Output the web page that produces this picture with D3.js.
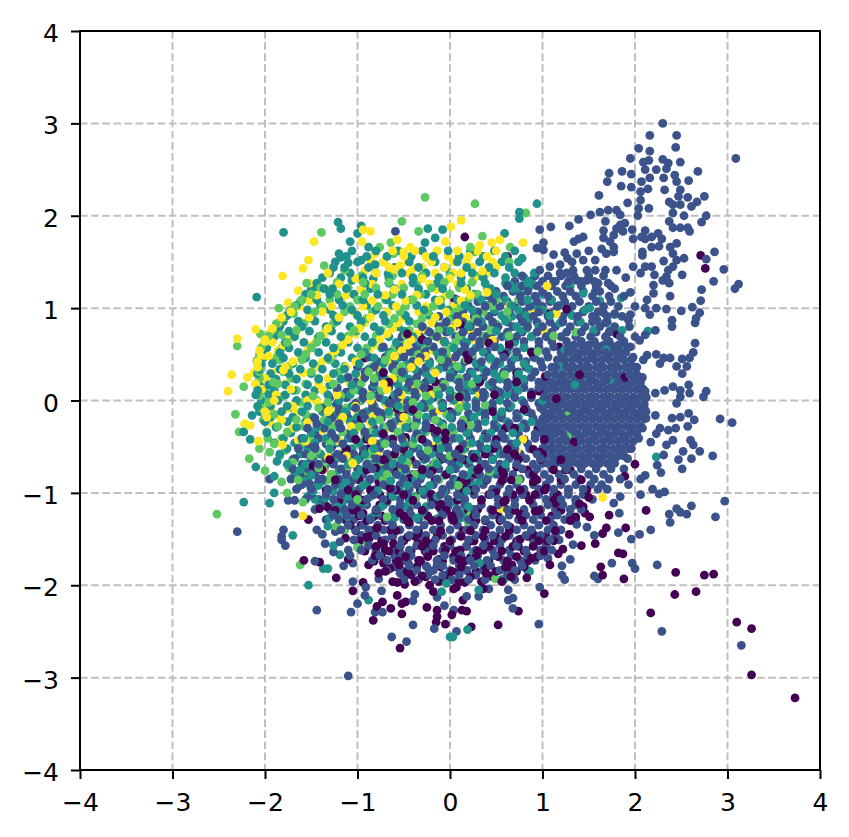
<!DOCTYPE html>
<html><head><meta charset="utf-8">
<script src="https://cdn.jsdelivr.net/npm/d3@7"></script>
<style>html,body{margin:0;padding:0;background:#fff}svg{display:block}text{font-family:"DejaVu Sans",sans-serif}</style>
</head><body><div id="c"></div>
<script>
const tickValues=[-4,-3,-2,-1,0,1,2,3,4];
const classColors=["#440154","#3b528b","#21918c","#5ec962","#fde725"];
const purple=[3.73,-3.22,3.26,-2.97,3.26,-2.47,3.10,-2.40,2.17,-2.30,2.43,-2.10,2.66,-2.07,2.44,-1.86,2.75,-1.89,2.85,-1.88,1.88,-1.93,1.65,-1.89,1.63,-1.80,1.82,-1.65,1.87,-1.66,1.90,-1.38,2.12,-1.19,1.57,-1.55,1.42,-1.57,1.65,-1.44,1.69,-1.38,1.72,-1.24,1.89,-.82,2.0,-.69,1.50,-1.05,1.46,-1.22,1.51,-1.26,1.36,-1.26,1.44,-1.15,1.40,-1.12,1.02,-2.09,.74,-2.28,.52,-2.43,.23,-2.45,1.08,-1.78,.83,-1.92,.36,-2.04,.13,-2.27,.14,-2.16,.04,-2.04,1.29,-1.45,1.14,-1.11,.90,-1.45,.90,-.88,.97,-.56,.68,-.59,.56,-.87,.47,-.52,.14,-.28,.49,-1.0,.65,-1.37,2.71,1.57,2.76,1.43,.16,1.77,.62,1.56,1.40,.28,1.89,.25,1.06,.94,1.26,.99,1.80,.72,.64,.61,.59,.50,.05,1.10,.88,.06,.96,.10,1.15,.02,1.03,.26,
-1.58,-1.73,-1.41,-1.75,-1.23,-1.92,-.94,-1.97,-1.05,-2.06,-.79,-2.23,-.73,-2.18,-.83,-2.38,-.64,-2.25,-.52,-2.31,-.52,-2.20,-.48,-2.18,-.57,-2.11,-.54,-2.68,-.14,-2.27,-.14,-2.34,-.15,-2.40,-.05,-2.42,-1.13,-1.49,-1.41,-1.17,-1.33,-1.15,-1.53,-1.29,-1.48,-.71,-.88,-1.78,-.77,-1.87,-.81,-1.68,-.58,-1.73,-.65,-1.82,-.72,-1.76,-.57,-1.97,-.49,-1.99,-.22,-2.0,-.18,-2.07,-.05,-1.89,-1.08,-1.35,-.96,-1.35,-.79,-1.38,-1.01,-1.19,-.94,-1.22,-.83,-1.26,-.76,-1.13,-.54,-1.22,-.65,-1.40,-.72,-1.55,-.61,-1.55,-.34,-1.44,-.22,-1.55,-.34,-1.73,-.58,-.97,-.77,-.88,-.65,-.95,-.44,-.84,-.66,-.67,-.80,-.73,-.57,-.09,-.14,-.33,-.19,-.76,-.21,-1.01,
.36,-1.62,.09,-1.85,.39,-1.87,.67,-1.78,.88,-1.71,.74,-1.58,.50,-1.48,.22,-1.41,.07,-1.19,.02,-1.26,.11,-1.62,.22,-1.70,.16,-1.97,.63,-1.86,1.17,-1.66,1.22,-1.61,.76,-1.50,1.05,-1.52,.30,-1.18,.38,-1.30,.10,-1.05,-.05,-1.62,-.12,-1.72,-.30,-1.90,-.42,-1.88,-.27,-1.63,-.46,-1.48,-.55,-1.63,-.40,-1.08,-.12,-1.15,-.05,-.98,.18,-.87,.32,-.73,.58,-1.10,.76,-1.23,.92,-1.20,1.04,-.95,.82,-1.02,.72,-.72,.38,-.40,.26,-.62,.06,-.66,-.12,-.50,-.30,-.60,-.48,-.40,-.72,-.36,-.88,-.52,-1.02,-.42,-1.18,-.60,-1.28,-.50,-.96,-.20,-.62,.02,-.40,-.10,-.22,.12,-.05,-.35,.10,.04,.34,.24,.48,.06,.72,.30,.42,.62,.20,.44,-.08,.40,-.30,.66,-.52,.50,-.72,.30,-.92,.46,-.46,.72,.12,.82,.30,.86,.88,.52,1.18,.58,1.34,-.45,1.20,-.66,1.10,-.30,1.25,-.75,.95,-.30,.80,-.10,.60,-.30,.15,-.96,-.10,-1.12,-.62,-1.46,-.44,-1.32,-.70,-1.62,-.90,-1.48,-1.10,-1.72,-.98,-1.60,-.55,-1.78,-.35,-1.55,-.12,-1.30,-.05,-1.92,.10,-1.72,.18,-1.84,.26,-1.52,.07,-2.02,.18,-2.28,.02,-2.32,-.25,-2.24];
const blue=[2.30,3.00,2.16,2.87,2.45,2.87,2.04,2.73,2.44,2.74,2.16,2.70,3.09,2.62,1.95,2.62,2.15,2.60,2.09,2.58,2.30,2.61,2.36,2.57,2.49,2.58,2.11,2.50,2.23,2.50,2.34,2.51,2.68,2.48,1.72,2.46,1.86,2.48,1.96,2.45,2.31,2.41,2.43,2.44,1.70,2.37,2.16,2.41,2.07,2.37,2.58,2.38,2.45,2.37,1.85,2.32,1.96,2.31,2.14,2.29,2.32,2.28,2.49,2.28,2.06,2.26,1.61,2.22,2.75,2.21,2.57,2.20,2.47,2.21,2.37,2.15,1.92,2.14,2.06,2.17,2.67,2.15,2.49,2.12,2.41,2.12,2.61,2.10,2.15,2.08,2.04,2.08,1.71,2.06,1.62,2.04,1.80,2.06,1.52,2.01,1.84,2.01,2.03,2.00,2.41,2.03,2.53,2.00,2.77,2.00,1.39,1.96,1.68,1.94,2.37,1.94,2.72,1.93,1.29,1.89,1.09,1.88,.97,1.85,1.84,1.90,1.89,1.92,1.80,1.86,1.87,1.83,1.97,1.85,2.11,1.84,2.41,1.87,2.49,1.87,2.57,1.87,2.59,1.83,1.66,1.84,1.44,1.77,1.39,1.75,1.34,1.72,1.66,1.76,1.77,1.79,1.73,1.72,2.25,1.81,2.18,1.77,2.29,1.75,2.07,1.77,1.98,1.75,2.11,1.75,1.01,1.71,.94,1.65,1.01,1.63,1.50,1.62,1.24,1.60,1.12,1.58,1.64,1.64,1.77,1.66,2.18,1.66,2.26,1.67,2.45,1.70,2.38,1.66,2.86,1.61,2.77,1.53,1.37,1.59,1.27,1.54,1.69,1.59,1.77,1.61,2.08,1.61,2.41,1.59,2.08,1.57,2.53,1.54,2.45,1.52,2.31,1.51,1.57,1.52,1.44,1.52,1.32,1.50,2.18,1.45,2.11,1.45,1.98,1.45,1.19,1.47,1.08,1.45,.97,1.41,2.41,1.45,2.36,1.41,2.96,1.42,1.80,1.41,1.68,1.41,1.57,1.41,1.48,1.41,1.33,1.41,1.26,1.38,1.19,1.38,2.06,1.38,2.21,1.36,2.51,1.36,2.34,1.34,1.90,1.33,2.85,1.29,2.30,1.30,2.37,1.27,1.71,1.27,1.60,1.27,1.48,1.30,1.37,1.30,1.12,1.29,3.12,1.26,3.08,1.21,2.72,1.20,2.20,1.25,1.57,1.18,1.78,1.21,1.95,1.17,2.20,1.16,2.38,1.13,2.13,1.09,2.71,1.08,2.23,1.00,2.34,.99,2.50,.97,2.62,1.01,2.11,1.00,2.70,.95,2.66,.89,2.65,.84,1.66,.95,1.78,.94,1.95,.93,2.16,.93,2.40,.87,2.40,.80,1.93,.87,1.59,.87,1.68,.84,2.65,.62,2.63,.52,2.59,.46,2.13,.49,2.23,.50,2.31,.46,2.38,.46,2.51,.45,2.27,.40,2.09,.44,2.45,.37,2.56,.37,2.51,.29,2.22,.76,2.11,.71,1.95,.58,2.05,.65,2.32,.11,2.41,.15,2.58,.17,2.49,.11,2.59,.08,2.22,.08,2.11,.10,2.77,.10,2.74,.04,2.49,.04,
3.15,-2.65,2.29,-2.50,.96,-2.42,.07,-2.50,2.24,-1.78,1.97,-1.76,2.0,-1.82,1.75,-1.76,1.56,-1.90,1.60,-1.93,2.17,-1.40,2.05,-1.45,1.96,-1.50,1.82,-1.43,2.97,-1.09,2.87,-1.26,2.61,-1.14,2.56,-1.23,2.49,-1.21,2.45,-1.17,2.37,-1.23,2.38,-1.32,2.32,-.99,2.26,-1.01,2.19,-.96,2.06,-1.02,1.83,-1.22,1.84,-1.04,1.77,-1.11,2.11,-.81,2.06,-.85,1.93,-.91,2.28,-.78,2.24,-.70,2.51,-.74,2.84,-.60,2.70,-.55,2.61,-.63,2.63,-.48,2.60,-.43,2.52,-.55,2.47,-.64,2.31,-.59,2.34,-.48,2.41,-.43,2.17,-.45,2.23,-.36,2.27,-.30,2.36,-.32,2.44,-.30,2.57,-.28,2.64,-.21,2.40,-.19,2.49,-.18,2.58,-.14,2.92,-.20,3.05,-.24,2.45,-.03,2.22,-.16,1.37,-1.34,1.48,-1.37,1.56,-1.46,1.33,-1.56,1.30,-1.72,1.21,-1.79,1.06,-1.71,1.21,-1.89,1.24,-1.94,.97,-2.02,.63,-2.05,.68,-2.14,.63,-2.16,.68,-2.25,.42,-2.04,.31,-2.12,.18,-2.12,.04,-2.27,
-2.30,-1.42,-1.44,-2.27,-1.10,-2.98,-1.80,-1.40,-1.82,-1.47,-1.82,-1.51,-1.78,-1.57,-1.68,-1.23,-1.75,-1.08,-1.68,-1.08,-1.95,-.85,-1.46,-1.74,-1.44,-1.40,-1.38,-1.45,-1.35,-1.55,-1.24,-1.42,-1.19,-1.53,-1.26,-1.64,-1.10,-1.62,-1.08,-1.68,-1.05,-1.76,-1.15,-1.79,-1.05,-1.96,-.91,-2.02,-.92,-2.11,-1.0,-2.20,-1.07,-2.29,-.81,-2.29,-.73,-2.29,-.74,-2.06,-.40,-2.43,-.63,-2.56,-.47,-2.61,-.17,-2.47,-.38,-2.10,-.40,-2.17,-.14,-2.13,-.06,-2.22,-.77,-1.93,-.54,-1.87,-.45,-1.76,-.52,-1.67,-.25,-1.80,-.14,-1.78,-.59,1.83,-1.52,-.9,-1.06,.12,-1.46,-.5,-1.44,-.25,-1.28,-.62,-1.42,-.85,-1.2,-.12,-1.12,-.85,-1.06,-.62,-.92,-.34,-.78,-.12,-.93,.06,-.62,-.03];
const teal=[.94,2.13,.75,2.04,.75,1.97,.59,1.81,.78,1.54,2.14,.75,1.44,1.16,1.62,1.08,1.46,.98,1.85,1.11,1.78,.93,1.51,1.0,1.30,1.24,.91,1.38,.88,1.30,.86,1.23,1.41,.85,1.73,.76,1.86,.76,1.55,.76,.65,1.25,.74,1.23,.67,.91,.83,.78,1.19,.84,1.24,.55,1.44,.35,1.35,.17,1.77,.19,1.19,.37,1.69,.55,1.84,.55,
-1.80,1.82,-1.21,1.93,-1.18,1.86,-.96,1.89,-1.0,1.81,-1.08,1.72,-.24,1.86,-.08,1.85,-.16,1.76,-.27,1.71,-.88,1.66,-1.2,1.59,-1.18,1.55,-1.10,1.49,-.96,1.52,-.81,1.47,-.67,1.37,-2.09,1.12,-1.47,1.20,-1.27,1.21,-1.06,1.30,-.83,1.32,
-2.14,-.16,-2.16,-.42,-2.23,-.34,-1.87,-.66,-2.10,-.72,-1.90,-.82,-1.90,-1.0,-2.23,-1.10,-1.95,-1.11,-1.70,-1.46,-1.53,-2.0,-1.37,-1.82,-1.32,-1.82,-.88,-2.16,-1.26,-1.57,-1.19,-1.67,-1.32,-1.36,-.09,-2.07,0,-2.56,-.04,-1.98,-1.46,-1.07,.03,-2.56,.19,-2.48,2.23,-.61,.58,-1.94,.86,-1.85,.32,-1.76,.25,-1.64,.31,-2.05];
const green=[.27,2.13,.82,2.03,.35,1.78,.65,1.66,.64,1.5,.74,1.09,1.12,.70,1.36,.74,1.35,.47,.95,.53,.61,.88,.59,.28,.47,1.03,.27,1.61,.22,1.66,-.27,2.20,-.52,1.94,-1.39,1.82,-.34,1.83,-.64,1.71,-.76,1.66,-.61,1.59,-1.36,1.46,-1.14,1.41,-1.55,1.27,-1.85,1.0,-2.05,.72,-2.30,.59,-2.09,.43,-2.23,.15,-1.69,.94,-1.62,1.07,-1.53,1.14,-1.82,.71,-1.84,.44,-1.91,.2,
-2.32,-.15,-2.28,-.34,-2.06,-.52,-1.97,-.41,-1.95,-.56,-2.17,-.63,-2.0,-.76,-2.52,-1.23,-1.62,-1.78,-1.76,-1.0,-1.82,-.88,-1.59,-1.10,-1.51,-.93,-1.0,-1.07,-1.0,-1.59,-.92,-1.52,-.68,-1.26,-.25,-1.26,-.37,-1.06,-1.23,-1.36,-1.14,-1.41,.49,-1.93,.22,-1.24,.43,-.77,.25,-.94,.09,-.92,1.27,-.39,1.28,-.16,.22,-.27,.14,-.54,.74,-.86,.38,-.05,.2,-1.33];
const yellow=[.12,1.95,.01,1.88,.54,1.74,.45,1.71,.32,1.68,.79,1.71,.36,1.56,.35,1.40,.03,1.38,1.05,1.24,.14,1.23,.40,1.17,.65,1.03,.89,.94,1.15,.94,1.02,.76,.46,.65,.23,.77,.23,.66,.02,.45,.31,.08,-1.47,1.72,-1.53,1.52,-1.59,1.43,-1.32,1.38,-1.81,1.35,-.94,1.85,-.86,1.83,-.95,1.72,-.81,1.59,-.86,1.52,-.57,1.74,-.43,1.66,-.5,1.61,-.92,1.41,-.54,1.46,-.6,1.42,-.4,1.43,-.24,1.54,-.14,1.62,-.05,1.72,-1.52,1.27,-1.64,1.19,-1.75,1.06,-1.78,.91,-2.10,.77,-2.30,.67,-2.0,.64,-1.92,.63,-2.36,.28,-2.19,.25,-2.40,.10,-2.04,.47,-2.02,.24,-1.80,.33,
-2.22,-.25,-2.16,-.27,-2.07,-.44,-1.88,-.46,-1.81,-.48,-1.59,-1.25,-1.94,-.10,-1.77,-.09,-1.94,-.24,-1.82,-.21,-1.57,-.28,-1.30,-.10,-1.44,-.01,-1.38,-.32,-1.07,-.28,-1.32,-.61,-1.05,-.68,-.43,-.68,-.20,-.49,-.11,-.11,-1.64,-.43,-1.17,-.21,-1.37,-.75,1.65,-1.05,.09,-.04,.55,-1.17,.79,-.42,.72,-.54];
// Dense interior, read band by band: each row is [y, x, x, x ...]
const purpleRows=[
[-.42,-.9,-.62,-.3,-.05,.22,.5,.8,1.02],[-.53,-1.12,-.84,-.5,-.18,.1,.36,.62,.9,1.1],[-.64,-1.3,-1,-.72,-.42,-.1,.16,.46,.74,.98,1.2],[-.75,-1.38,-1.12,-.9,-.6,-.3,0,.3,.56,.84,1.12,1.3],[-.86,-1.24,-.98,-.74,-.46,-.16,.12,.4,.66,.94,1.2,1.42],
[-.97,-1.34,-1.1,-.86,-.6,-.32,-.06,.24,.5,.76,1.02,1.28,1.48],[-1.08,-1.2,-.94,-.68,-.44,-.18,.08,.34,.6,.86,1.12,1.36],[-1.19,-1.24,-1.06,-.8,-.56,-.3,-.04,.2,.46,.7,.96,1.2],[-1.3,-1.12,-.9,-.7,-.46,-.2,.04,.28,.54,.78,1.04,1.3],[-1.41,-1.02,-.84,-.58,-.34,-.1,.14,.38,.64,.88,1.14],
[-1.52,-.98,-.74,-.5,-.26,0,.24,.48,.72,.96,1.12],[-1.63,-.92,-.66,-.42,-.18,.06,.3,.56,.8,1.02],[-1.74,-.82,-.56,-.32,-.08,.16,.42,.62,.84],[-1.85,-.7,-.46,-.22,.02,.28,.5,.72],[-1.96,-.62,-.38,-.12,.1,.34,.56],
[-1.47,-.86,-.62,-.38,-.14,.12,.36,.6,.84,1.04],[-1.58,-.8,-.54,-.3,-.06,.18,.42,.68,.9],[-1.69,-.74,-.48,-.24,.04,.28,.52,.72,.94],[-1.8,-.6,-.36,-.1,.12,.38,.6,.8],[-1.91,-.5,-.26,-.02,.22,.46,.66],[-1.25,-.98,-.74,-.5,-.24,.02,.26,.52,.76,1.1],[-1.02,-1.02,-.76,-.5,-.2,.14,.42,.68,.92,1.16],[-.8,-1,-.68,-.36,-.04,.28,.58,.9],[-.58,-.94,-.6,-.26,.06,.38,.7,1],[-.3,-.7,-.2,.3,.7],[-.12,-.5,0,.46,.84],[.2,-.66,-.16,.32,.72],[.5,-.3,.18,.6]];
const blueRows=[
[1.35,.78,.92,1.06,1.2,1.34,1.5,1.66],[1.24,.62,.78,.94,1.1,1.25,1.42,1.58,1.74],[1.13,.42,.58,.76,.92,1.06,1.22,1.36,1.54,1.72,1.88],[1.02,.2,.38,.54,.7,.86,1,1.16,1.32,1.5,1.66,1.82,2],[.91,-.12,.08,.26,.42,.58,.76,.9,1.06,1.22,1.38,1.54,1.7,1.86],
[.8,-.3,-.12,.05,.22,.36,.52,.68,.84,1,1.14,1.3,1.46,1.62,1.78,1.94],[.69,-.52,-.32,-.14,.06,.24,.4,.56,.72,.88,1.04,1.2,1.36,1.52,1.68,1.84,2],[.58,-.72,-.54,-.36,-.18,0,.16,.32,.48,.64,.8,.96,1.12,1.28,1.44,1.6,1.76,1.9],[.47,-.88,-.7,-.5,-.32,-.12,.06,.24,.42,.58,.74,.9,1.06,1.22,1.38,1.54,1.7,1.84,1.98],[.36,-1,-.82,-.62,-.44,-.26,-.06,.12,.3,.48,.66,.82,1,1.14,1.3,1.46,1.62,1.78,1.92,2.02],
[.25,-1.1,-.92,-.74,-.54,-.36,-.18,0,.18,.36,.54,.72,.88,1.04,1.2,1.36,1.52,1.68,1.84,2,2.08],[.14,-1.22,-1.02,-.84,-.66,-.46,-.28,-.08,.1,.28,.46,.62,.8,.96,1.12,1.28,1.44,1.6,1.76,1.92,2.07],[.03,-1.3,-1.12,-.94,-.76,-.56,-.38,-.18,0,.18,.36,.54,.7,.88,1.04,1.2,1.36,1.52,1.68,1.84,1.98,2.12],[-.08,-1.38,-1.2,-1.02,-.84,-.64,-.46,-.28,-.08,.1,.28,.46,.64,.82,.98,1.14,1.3,1.46,1.62,1.78,1.94,2.1],[-.19,-1.46,-1.28,-1.1,-.92,-.74,-.54,-.36,-.18,.02,.2,.38,.56,.72,.9,1.06,1.22,1.38,1.54,1.7,1.86,2.02,2.12],
[-.3,-1.54,-1.36,-1.18,-1,-.82,-.62,-.44,-.26,-.08,.12,.3,.48,.66,.82,1,1.16,1.32,1.48,1.64,1.8,1.96,2.08],[-.41,-1.6,-1.42,-1.24,-1.06,-.88,-.7,-.52,-.32,-.14,.04,.22,.4,.58,.76,.92,1.08,1.24,1.4,1.56,1.72,1.88,2.04],[-.52,-1.64,-1.46,-1.3,-1.12,-.94,-.76,-.58,-.4,-.22,-.02,.16,.34,.52,.7,.86,1.02,1.18,1.34,1.5,1.66,1.82,1.96],[-.63,-1.68,-1.5,-1.34,-1.16,-.98,-.8,-.62,-.44,-.26,-.06,.12,.3,.46,.64,.82,.98,1.14,1.3,1.46,1.62,1.78,1.92],[-.74,-1.7,-1.54,-1.36,-1.18,-1,-.84,-.66,-.48,-.3,-.12,.06,.24,.42,.6,.78,.94,1.1,1.26,1.42,1.58,1.74,1.88],
[-.85,-1.72,-1.54,-1.38,-1.2,-1.04,-.86,-.68,-.5,-.32,-.14,.04,.22,.4,.58,.76,.92,1.08,1.24,1.4,1.56,1.72,1.84],[-.96,-1.66,-1.5,-1.32,-1.16,-.98,-.8,-.62,-.44,-.26,-.08,.1,.28,.46,.64,.8,.96,1.12,1.28,1.44,1.6,1.7],[-1.07,-1.56,-1.42,-1.26,-1.08,-.9,-.72,-.54,-.38,-.2,-.02,.16,.34,.52,.7,.88,1.04,1.2,1.36,1.54],[-1.18,-1.46,-1.3,-1.14,-.98,-.8,-.62,-.44,-.28,-.1,.08,.26,.44,.62,.8,.98,1.14,1.3,1.42],[-1.29,-1.34,-1.2,-1.04,-.86,-.68,-.5,-.34,-.16,.02,.2,.38,.56,.74,.9,1.08,1.24,1.36],
[-1.4,-1.18,-1.02,-.88,-.72,-.54,-.36,-.18,0,.18,.36,.54,.72,.88,1.06,1.2],[-1.51,-1.04,-.88,-.7,-.52,-.34,-.16,.02,.2,.38,.56,.74,.9,1.08,1.18],[-1.62,-.96,-.8,-.62,-.44,-.26,-.08,.1,.28,.46,.64,.82,.98,1.1],[-1.73,-.84,-.68,-.5,-.32,-.14,.04,.22,.4,.58,.76,.92],[-1.84,-.68,-.52,-.36,-.18,0,.18,.36,.54,.7,.84],[-1.94,-.5,-.34,-.16,.02,.2,.38,.56,.7],
[.6,1.34,1.42,1.5,1.58,1.66,1.74,1.82],[.52,1.2,1.28,1.36,1.44,1.52,1.6,1.68,1.76,1.84,1.9],[.44,1.16,1.24,1.32,1.4,1.48,1.56,1.64,1.72,1.8,1.88,1.96],[.36,1.1,1.18,1.26,1.34,1.42,1.5,1.58,1.66,1.74,1.82,1.9,1.98],[.28,1.06,1.14,1.22,1.3,1.38,1.46,1.54,1.62,1.7,1.78,1.86,1.94,2.02],[.2,1.02,1.1,1.18,1.26,1.34,1.42,1.5,1.58,1.66,1.74,1.82,1.9,1.98,2.06],[.12,1,1.06,1.14,1.22,1.3,1.38,1.46,1.54,1.62,1.7,1.78,1.86,1.94,2.02,2.09],[.04,1.02,1.1,1.18,1.26,1.34,1.42,1.5,1.58,1.66,1.74,1.82,1.9,1.98,2.06,2.12],[-.04,1,1.06,1.14,1.22,1.3,1.38,1.46,1.54,1.62,1.7,1.78,1.86,1.94,2.02,2.1],[-.12,1.02,1.1,1.18,1.26,1.34,1.42,1.5,1.58,1.66,1.74,1.82,1.9,1.98,2.06,2.12],[-.2,1,1.06,1.14,1.22,1.3,1.38,1.46,1.54,1.62,1.7,1.78,1.86,1.94,2.02,2.1],[-.28,1.02,1.1,1.18,1.26,1.34,1.42,1.5,1.58,1.66,1.74,1.82,1.9,1.98,2.06],[-.36,1,1.06,1.14,1.22,1.3,1.38,1.46,1.54,1.62,1.7,1.78,1.86,1.94,2.02],[-.44,1.02,1.1,1.18,1.26,1.34,1.42,1.5,1.58,1.66,1.74,1.82,1.9,1.98],[-.52,1,1.06,1.14,1.22,1.3,1.38,1.46,1.54,1.62,1.7,1.78,1.86,1.93],[-.6,1.02,1.1,1.18,1.26,1.34,1.42,1.5,1.58,1.66,1.74,1.82,1.88],[-.68,1,1.06,1.14,1.22,1.3,1.38,1.46,1.54,1.62,1.7,1.78],
[1.29,.7,.86,1,1.14,1.28,1.42,1.56],[1.18,.5,.68,.84,1,1.16,1.3,1.44,1.62],[1.07,.3,.46,.62,.78,.94,1.08,1.24,1.4,1.58,1.74],[.96,.14,.3,.48,.64,.8,.96,1.12,1.28,1.44,1.6],[.85,-.04,.14,.3,.46,.62,.78,.94,1.08,1.22,1.38,1.54,1.7],[.74,-.22,-.04,.14,.3,.46,.62,.78,.94,1.1,1.26,1.42,1.58,1.72],[.64,-.42,-.24,-.06,.14,.32,.48,.64,.8,.96,1.1,1.26,1.42,1.56,1.72,1.88],[.53,-.62,-.44,-.26,-.08,.08,.24,.4,.56,.72,.88,1.04],[.42,-.78,-.6,-.4,-.22,-.02,.16,.34,.5,.66,.82,.98],[.31,-.92,-.72,-.52,-.34,-.16,.04,.22,.4,.58,.74,.92],
[.2,-1.02,-.82,-.64,-.44,-.26,-.08,.1,.28,.46,.62,.8,.96],[.09,-1.12,-.94,-.76,-.56,-.38,-.18,0,.18,.36,.54,.7,.88],[-.03,-1.22,-1.02,-.84,-.66,-.46,-.28,-.08,.1,.28,.46,.62,.8,.96],[-.14,-1.3,-1.12,-.94,-.74,-.56,-.36,-.18,.02,.2,.38,.56,.72,.88],[-.25,-1.38,-1.2,-1.02,-.84,-.64,-.46,-.26,-.08,.12,.3,.48,.64,.8,.96],[-.36,-1.46,-1.28,-1.1,-.92,-.74,-.54,-.36,-.16,.02,.2,.38,.56,.74,.92],[-.47,-1.52,-1.34,-1.16,-.98,-.8,-.62,-.44,-.24,-.04,.14,.32,.5,.66,.84],[-.58,-1.56,-1.4,-1.22,-1.04,-.86,-.68,-.5,-.32,-.12,.06,.24,.42,.58,.76,.94],[-.69,-1.6,-1.42,-1.26,-1.08,-.9,-.72,-.54,-.36,-.18,.02,.2,.38,.54,.72,.9],[-.8,-1.62,-1.46,-1.28,-1.12,-.94,-.76,-.58,-.4,-.22,-.04,.14,.32,.5,.68,.86,1.02,1.18,1.34,1.5,1.66],
[-.91,-1.6,-1.44,-1.24,-1.08,-.9,-.72,-.54,-.36,-.18,0,.18,.36,.54,.72,.9,1.04,1.2,1.36,1.52,1.64],[-1.02,-1.5,-1.34,-1.18,-1,-.82,-.64,-.46,-.28,-.1,.08,.26,.44,.62,.78,.96,1.12,1.28,1.44],[-1.13,-1.4,-1.24,-1.06,-.9,-.72,-.54,-.36,-.2,-.02,.16,.34,.52,.7,.9,1.06,1.22,1.36],[-1.24,-1.26,-1.12,-.96,-.78,-.6,-.42,-.26,-.08,.1,.28,.46,.64,.82,.98,1.16,1.3],[-1.35,-1.1,-.94,-.78,-.62,-.44,-.28,-.1,.08,.26,.44,.62,.8,.96,1.12],[-1.46,-.96,-.8,-.62,-.44,-.26,-.08,.1,.28,.46,.64,.82,.98,1.14],[-1.57,-.88,-.72,-.54,-.36,-.18,0,.18,.36,.54,.72,.9,1.04],[-1.68,-.76,-.6,-.42,-.24,-.06,.12,.3,.48,.66,.84,.98],[-1.79,-.6,-.44,-.26,-.08,.1,.26,.44,.62,.78],[-1.89,-.42,-.24,-.08,.1,.28,.46,.62]];
const tealRows=[
[1.62,-1.06,-.8,-.56,-.3,-.02,.22,.48,.7],[1.5,-1.24,-1,-.72,-.44,-.16,.08,.32,.56,.74],[1.38,-1.3,-1.08,-.8,-.52,-.26,0,.24,.48,.7],[1.27,-1.44,-1.2,-.92,-.66,-.4,-.14,.12,.38,.6,.84],[1.15,-1.56,-1.3,-1.04,-.78,-.52,-.26,0,.26,.5,.76,1],[1.03,-1.66,-1.4,-1.16,-.9,-.62,-.36,-.1,.16,.4,.66,.92,1.18],[.92,-1.76,-1.5,-1.26,-1,-.72,-.48,-.22,.06,.3,.56,.82,1.08,1.32],[.8,-1.84,-1.6,-1.34,-1.08,-.82,-.56,-.3,-.04,.2,.46,.72,.96],[.69,-1.9,-1.68,-1.42,-1.18,-.92,-.66,-.4,-.14,.12,.36,.62,.88],[.57,-1.98,-1.74,-1.5,-1.26,-1,-.74,-.48,-.22,.04,.28,.54,.8],
[.46,-2.02,-1.8,-1.56,-1.32,-1.06,-.82,-.56,-.3,-.06,.2,.44,.7,.92],[.34,-2.06,-1.84,-1.62,-1.38,-1.14,-.88,-.62,-.38,-.12,.12,.36,.62,.86],[.23,-2.04,-1.88,-1.66,-1.42,-1.18,-.94,-.7,-.44,-.2,.06,.3,.54,.8],[.11,-2.08,-1.9,-1.7,-1.46,-1.22,-.98,-.74,-.5,-.26,0,.24,.5,.74],[0,-2.04,-1.86,-1.66,-1.44,-1.2,-.96,-.7,-.46,-.22,.04,.28,.54,.78,1],[-.12,-2.06,-1.82,-1.6,-1.38,-1.14,-.9,-.66,-.42,-.18,.08,.32,.56,.82],[-.23,-2,-1.76,-1.56,-1.32,-1.08,-.84,-.6,-.36,-.12,.14,.38,.62,.88],[-.35,-1.98,-1.72,-1.5,-1.28,-1.04,-.8,-.56,-.3,-.06,.18,.44,.68],[-.46,-1.9,-1.68,-1.46,-1.22,-.98,-.74,-.5,-.26,-.02,.24,.48,.72],[-.58,-1.84,-1.62,-1.4,-1.16,-.92,-.68,-.44,-.2,.04,.28,.54],
[-.69,-1.76,-1.56,-1.34,-1.1,-.86,-.62,-.38,-.14,.1,.34,.6],[-.81,-1.68,-1.5,-1.26,-1.02,-.78,-.54,-.3,-.06,.18,.42],[-.92,-1.62,-1.42,-1.18,-.94,-.7,-.46,-.22,.02,.26],[-1.04,-1.54,-1.34,-1.1,-.86,-.62,-.38,-.14,.1],[-1.15,-1.42,-1.22,-.98,-.74,-.5,-.26,-.02,.2],[-1.27,-1.3,-1.1,-.86,-.6,-.36,-.12,.12],
[1.56,-1.12,-.9,-.68,-.42,-.18,.1,.36,.6],[1.44,-1.26,-1.14,-.88,-.6,-.34,-.06,.18,.42,.64],[1.33,-1.38,-1.18,-.94,-.66,-.4,-.12,.12,.36,.6,.8],[1.21,-1.5,-1.36,-1.12,-.86,-.6,-.34,-.08,.18,.44,.68],[1.09,-1.6,-1.44,-1.2,-.94,-.68,-.42,-.16,.08,.34,.6,.84,1.1],[.98,-1.72,-1.54,-1.3,-1.06,-.8,-.54,-.28,-.02,.24,.48,.74,1],[.86,-1.8,-1.64,-1.46,-1.22,-.96,-.7,-.44,-.18,.08,.34,.6,.84],[.75,-1.86,-1.74,-1.52,-1.28,-1.02,-.76,-.5,-.24,0,.24,.5,.76],[.63,-1.94,-1.78,-1.58,-1.34,-1.1,-.84,-.58,-.32,-.06,.18,.44,.7],[.52,-2,-1.84,-1.64,-1.42,-1.18,-.92,-.66,-.4,-.14,.1,.36,.62],
[.4,-2.04,-1.92,-1.7,-1.48,-1.24,-.98,-.72,-.46,-.22,.02,.28,.54,.8],[.29,-2.08,-1.94,-1.74,-1.5,-1.26,-1.02,-.76,-.5,-.26,0,.24,.48,.74],[.17,-2.06,-1.96,-1.78,-1.54,-1.3,-1.06,-.82,-.56,-.32,-.06,.18,.42,.68],[.06,-2.1,-1.96,-1.78,-1.56,-1.32,-1.08,-.84,-.6,-.36,-.12,.12,.38,.62,.88],[-.06,-2.08,-1.94,-1.76,-1.54,-1.3,-1.06,-.82,-.56,-.32,-.08,.18,.42,.66],[-.18,-1.94,-1.7,-1.48,-1.24,-1,-.76,-.5,-.26,0,.26,.5,.74],[-.29,-1.88,-1.66,-1.44,-1.2,-.96,-.72,-.48,-.24,.02,.26,.52,.76],[-.41,-1.8,-1.58,-1.34,-1.1,-.86,-.62,-.38,-.14,.1,.36,.6],[-.52,-1.76,-1.54,-1.3,-1.06,-.82,-.58,-.34,-.1,.14,.4,.64],[-.64,-1.7,-1.48,-1.24,-1,-.76,-.52,-.28,-.02,.22,.46],
[-.75,-1.62,-1.44,-1.2,-.96,-.72,-.48,-.24,0,.24,.5],[-.87,-1.56,-1.36,-1.12,-.88,-.64,-.4,-.16,.08,.32],[-.98,-1.48,-1.26,-1.02,-.78,-.54,-.3,-.06,.18],[-1.1,-1.36,-1.16,-.92,-.68,-.44,-.2,.04],[-1.21,-1.2,-1.02,-.8,-.56,-.3,-.06,.16]];
const greenRows=[
[1.35,-.96,-.62,-.3,0,.3],[1.22,-1.4,-1.1,-.8,-.5,-.2,.1,.4],[1.09,-1.6,-1.3,-1,-.7,-.4,-.1,.2,.5],[.96,-1.74,-1.46,-1.14,-.84,-.54,-.24,.06,.36,.62],[.83,-1.88,-1.58,-1.26,-.96,-.66,-.36,-.06,.22,.5],[.7,-1.96,-1.72,-1.4,-1.1,-.8,-.48,-.18,.1,.38,.64],[.57,-2.04,-1.82,-1.5,-1.2,-.9,-.6,-.3,0,.28],[.44,-2.08,-1.9,-1.6,-1.3,-1,-.7,-.4,-.1,.18,.44],
[.31,-2.06,-1.8,-1.5,-1.2,-.88,-.58,-.28,.02],[.18,-2.1,-1.86,-1.56,-1.26,-.96,-.66,-.36,-.06,.24],[.05,-2.06,-1.8,-1.48,-1.18,-.86,-.56,-.26,.04,.34],[-.08,-2.04,-1.72,-1.42,-1.12,-.82,-.52,-.22,.1],[-.21,-2.02,-1.66,-1.36,-1.06,-.76,-.46,-.16,.14],[-.34,-1.98,-1.76,-1.46,-1.16,-.86,-.56,-.26,.04],[-.47,-1.9,-1.6,-1.3,-1,-.7,-.4,-.1,.2],[-.6,-1.84,-1.5,-1.2,-.9,-.6,-.3,0],[-.73,-1.74,-1.42,-1.12,-.82,-.52,-.22],[-.86,-1.64,-1.32,-1.02,-.72,-.42,-.12],
[1.28,-1.22,-.94,-.66,-.36,-.06,.24],[1.15,-1.5,-1.22,-.92,-.62,-.32,0,.3],[1.02,-1.68,-1.38,-1.08,-.78,-.48,-.18,.12,.42],[.89,-1.82,-1.52,-1.2,-.9,-.6,-.3,0,.28],[.76,-1.92,-1.66,-1.34,-1.04,-.74,-.44,-.12,.16,.44],[.63,-2,-1.76,-1.44,-1.14,-.84,-.54,-.24,.06,.34],[.5,-2.06,-1.86,-1.56,-1.26,-.96,-.64,-.34,-.04,.24],[.37,-2.04,-1.74,-1.44,-1.14,-.84,-.52,-.22,.08],[.24,-2.06,-1.72,-1.42,-1.12,-.82,-.52,-.2,.1],[.11,-2,-1.66,-1.36,-1.04,-.74,-.44,-.14,.18],[-.02,-1.96,-1.62,-1.32,-1,-.7,-.4,-.1],[-.15,-1.9,-1.56,-1.26,-.96,-.66,-.34,-.04],[-.28,-1.86,-1.58,-1.28,-.98,-.68,-.38,-.08],[-.41,-1.82,-1.52,-1.22,-.92,-.62,-.32,-.02],[-.54,-1.78,-1.44,-1.14,-.84,-.54,-.24],[-.67,-1.7,-1.36,-1.06,-.76,-.46,-.16],[-.8,-1.58,-1.28,-.98,-.68,-.38]];
const yellowRows=[
[1.62,-.62,-.38,-.14,.08,.3,.5],[1.5,-.72,-.46,-.2,.04,.18,.46],[1.38,-.8,-.44,-.16,.12,.4],[1.26,-1.2,-.84,-.52,-.22,.08],[1.14,-1.44,-1.12,-.7,-.36,-.04,.22],[1.02,-1.62,-1.28,-.94,-.58,-.26,.04],[.9,-1.82,-1.52,-1.2,-.86,-.5,-.16,.16],[.78,-1.92,-1.64,-1.32,-.98,-.62,-.3,.02],[.66,-2,-1.74,-1.44,-1.1,-.76,-.42,-.1],[.54,-2.06,-1.86,-1.54,-1.24,-.88,-.52,-.18],
[.42,-2.08,-1.7,-1.38,-1.02,-.68,-.34],[.3,-2.12,-1.92,-1.58,-1.22,-.86,-.5,-.16],[.18,-2.1,-1.78,-1.42,-1.08,-.72,-.38],[.06,-2.06,-1.88,-1.56,-1.22,-.88,-.52,-.2],[-.06,-2.02,-1.7,-1.36,-1.02,-.68],[-.18,-1.98,-1.84,-1.5,-1.16,-.84,-.5],[-.3,-1.7,-1.36,-1,-.66],[-.44,-1.56,-1.2,-.84,-.5],[-.6,-1.46,-1.12,-.78],
[1.56,-.5,-.26,-.02,.2,.4],[1.44,-.66,-.3,-.06,.24,.5],[1.32,-1.02,-.66,-.3,0,.26],[1.2,-1.3,-.96,-.6,-.14,.16],[1.08,-1.52,-1.18,-.84,-.48,-.12,.12],[.96,-1.72,-1.38,-1.04,-.68,-.34,-.04],[.84,-1.86,-1.58,-1.26,-.92,-.56,-.2,.08],[.72,-1.96,-1.68,-1.36,-1.02,-.68,-.36],[.6,-2.02,-1.8,-1.5,-1.16,-.82,-.46],[.48,-1.96,-1.62,-1.3,-.96,-.6,-.26],[.36,-2.08,-1.78,-1.46,-1.12,-.76,-.42],[.24,-2,-1.66,-1.32,-.98,-.62],[.12,-2.04,-1.72,-1.38,-1.04,-.68,-.32],[0,-1.9,-1.54,-1.2,-.86,-.5],[-.12,-2,-1.66,-1.32,-1,-.64],[-.24,-1.54,-1.2,-.86,-.52]];
const seriesLists=[purple,blue,teal,green,yellow];
const seriesRows=[purpleRows,blueRows,tealRows,greenRows,yellowRows];
const W=849,H=837,L=80,R=820,T=31,B=770;
const x=d3.scaleLinear().domain([-4,4]).range([L,R]);
const y=d3.scaleLinear().domain([-4,4]).range([B,T]);
const svg=d3.select("#c").append("svg").attr("width",W).attr("height",H);
svg.append("rect").attr("width",W).attr("height",H).attr("fill","#fff");
const grid=svg.append("g").attr("stroke","#bfbfbf").attr("stroke-width",2).attr("stroke-dasharray","7.7 3.4");
grid.selectAll(".v").data(tickValues).join("line").attr("x1",d=>x(d)).attr("x2",d=>x(d)).attr("y1",T).attr("y2",B);
grid.selectAll(".h").data(tickValues).join("line").attr("y1",d=>y(d)).attr("y2",d=>y(d)).attr("x1",L).attr("x2",R);
const pts=[];
seriesLists.forEach((list,c)=>{for(let i=0;i+1<list.length;i+=2)pts.push({px:list[i],py:list[i+1],c});});
seriesRows.forEach((rows,c)=>rows.forEach(r=>r.slice(1).forEach(v=>pts.push({px:v,py:r[0],c}))));
// scatter was plotted in mixed order: visit the points in a fixed stride so classes interleave
const n=pts.length;let stride=Math.floor(n*0.618)|1;while(d3.range(2,60).some(p=>n%p===0&&stride%p===0))stride+=2;
const ordered=d3.range(n).map(i=>pts[(i*stride)%n]);
svg.append("g").selectAll("circle").data(ordered).join("circle").attr("cx",d=>x(d.px)).attr("cy",d=>y(d.py)).attr("r",4.4).attr("fill",d=>classColors[d.c]);
const fmt=d=>String(d).replace("-","\u2212");
const ax=svg.append("g").attr("transform",`translate(0,${B})`).call(d3.axisBottom(x).tickValues(tickValues).tickFormat(fmt).tickSize(9).tickPadding(14));
const ay=svg.append("g").attr("transform",`translate(${L},0)`).call(d3.axisLeft(y).tickValues(tickValues).tickFormat(fmt).tickSize(9).tickPadding(12));
[ax,ay].forEach(a=>{a.selectAll("text").attr("font-size",25).attr("font-family","DejaVu Sans").attr("fill","#000");a.selectAll("line").attr("stroke","#000").attr("stroke-width",2);a.select(".domain").remove();});
ay.selectAll("text").attr("dy","0.42em");
svg.append("rect").attr("x",L).attr("y",T).attr("width",R-L).attr("height",B-T).attr("fill","none").attr("stroke","#000").attr("stroke-width",2);
</script></body></html>
